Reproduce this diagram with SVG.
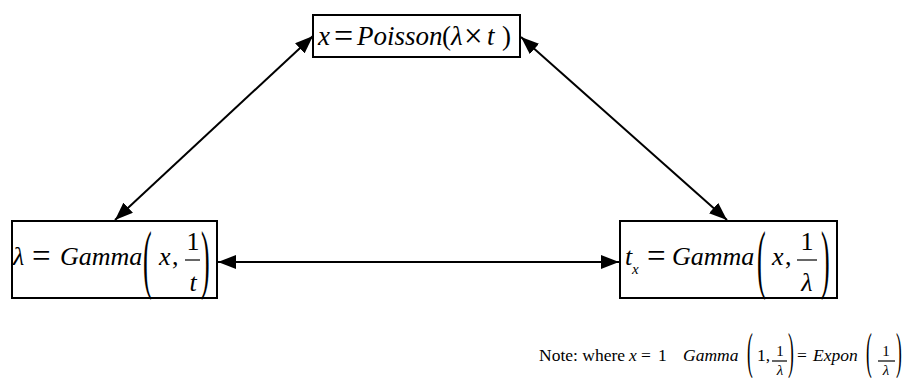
<svg xmlns="http://www.w3.org/2000/svg" width="906" height="378" viewBox="0 0 906 378">
<style>
.box{fill:#fff;stroke:#000;stroke-width:2}
.m{font-family:"Liberation Serif","Times New Roman",serif;fill:#000}
.i{font-style:italic}
.big{font-size:26px}
.sm{font-size:17.5px}
.fr{font-size:15px}
.edge{stroke:#000;stroke-width:2;fill:none;marker-start:url(#ah);marker-end:url(#ah)}
.bar{stroke:#000;stroke-width:1.2}
</style>
<defs>
<marker id="ah" markerUnits="userSpaceOnUse" markerWidth="18" markerHeight="14" refX="18" refY="7" orient="auto-start-reverse" viewBox="0 0 18 14">
<path d="M0,0 L18,7 L0,14 z" fill="#000"/>
</marker>
</defs>
<rect width="906" height="378" fill="#fff"/>
<g id="connectors">
<line class="edge" x1="115" y1="220" x2="313" y2="36"/>
<line class="edge" x1="521" y1="37" x2="727" y2="220"/>
<line class="edge" x1="218" y1="262" x2="619" y2="262"/>
</g>
<g id="node-poisson">
<rect class="box" x="313" y="15" width="207" height="42"/>
<g class="m" font-size="27">
<text class="i" x="318" y="45">x</text>
<text x="334" y="46.8" font-size="34">=</text>
<text class="i" x="357" y="45">Poisson</text>
<text x="442" y="45">(</text>
<text class="i" x="451" y="45">λ</text>
<text x="464" y="46.8" font-size="33">×</text>
<text class="i" x="487" y="45">t</text>
<text x="502" y="45">)</text>
</g>
</g>
<g id="node-lambda">
<rect class="box" x="12" y="221" width="205" height="77"/>
<g class="m big">
<text class="i" x="13" y="265">λ</text>
<text x="32" y="267" font-size="33">=</text>
<text class="i" x="60" y="265">Gamma</text>
<text transform="translate(143,0) scale(1,2.93)" x="0" y="96.8">(</text>
<text class="i" x="159" y="265">x</text>
<text x="172" y="265">,</text>
<text x="193" y="250" text-anchor="middle">1</text>
<text class="i" x="193" y="291" text-anchor="middle">t</text>
<text transform="translate(201,0) scale(1,2.93)" x="0" y="96.8">)</text>
</g>
<line class="bar" x1="185" y1="260" x2="200" y2="260"/>
</g>
<g id="node-tx">
<rect class="box" x="620" y="221" width="217" height="77"/>
<g class="m big">
<text class="i" x="625" y="265">t</text>
<text class="i" x="632" y="274" font-size="15">x</text>
<text x="647" y="267" font-size="33">=</text>
<text class="i" x="672" y="265">Gamma</text>
<text transform="translate(757,0) scale(1,2.93)" x="0" y="96.8">(</text>
<text class="i" x="772" y="265">x</text>
<text x="785" y="265">,</text>
<text x="807" y="250" text-anchor="middle">1</text>
<text class="i" x="807" y="291" text-anchor="middle">λ</text>
<text transform="translate(821,0) scale(1,2.93)" x="0" y="96.8">)</text>
</g>
<line class="bar" x1="797" y1="260" x2="817" y2="260"/>
</g>
<g id="note">
<g class="m sm">
<text x="539" y="361">Note: where</text>
<text class="i" x="629" y="361">x</text>
<text x="641" y="361">=</text>
<text x="658" y="361">1</text>
<text class="i" x="683" y="361">Gamma</text>
<text transform="translate(747,0) scale(1,2.95)" x="0" y="124.7">(</text>
<text x="757" y="361">1,</text>
<text class="fr" x="780" y="356" text-anchor="middle">1</text>
<text class="i fr" x="780" y="374.5" text-anchor="middle">λ</text>
<text transform="translate(788,0) scale(1,2.95)" x="0" y="124.7">)</text>
<text x="797" y="361">=</text>
<text class="i" x="813" y="361">Expon</text>
<text transform="translate(866,0) scale(1,2.95)" x="0" y="124.7">(</text>
<text class="fr" x="886" y="356" text-anchor="middle">1</text>
<text class="i fr" x="886" y="374.5" text-anchor="middle">λ</text>
<text transform="translate(896,0) scale(1,2.95)" x="0" y="124.7">)</text>
</g>
<line class="bar" x1="772" y1="361" x2="787" y2="361"/>
<line class="bar" x1="878" y1="361" x2="895" y2="361"/>
</g>
</svg>
